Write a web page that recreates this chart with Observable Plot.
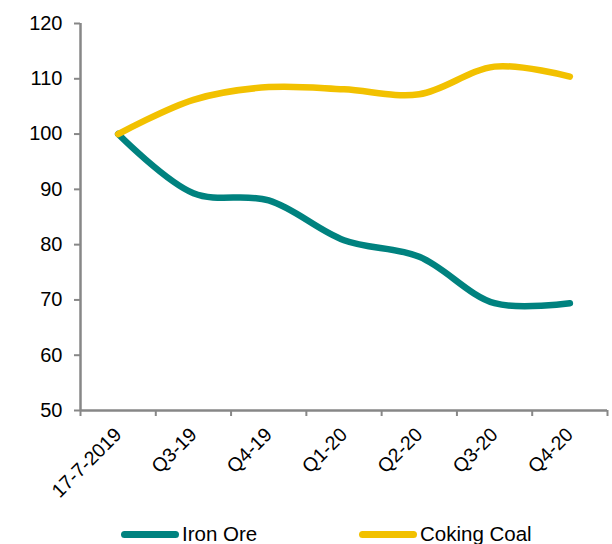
<!DOCTYPE html>
<html>
<head>
<meta charset="utf-8">
<script src="https://cdn.jsdelivr.net/npm/d3@7"></script>
<script src="https://cdn.jsdelivr.net/npm/@observablehq/plot@0.6"></script>
<style>
  html, body { margin: 0; padding: 0; background: #fff; }
  #wrap { position: relative; width: 612px; height: 544px; overflow: hidden; font-family: "Liberation Sans", Arial, sans-serif; }
  #legend { position: absolute; left: 0; top: 521px; width: 612px; height: 30px; }
  .item { position: absolute; top: 0; display: flex; align-items: center; height: 26px; font-size: 20.5px; color: #000; }
  .sw { display: inline-block; width: 58px; height: 7px; border-radius: 4px; margin-right: 3px; }
</style>
</head>
<body>
<div id="wrap">
  <div id="chart"></div>
  <div id="legend"></div>
</div>
<script>
const categories = ["17-7-2019", "Q3-19", "Q4-19", "Q1-20", "Q2-20", "Q3-20", "Q4-20"];
const ironOre = [100, 89.3, 88.0, 80.8, 77.8, 69.4, 69.4];
const cokingCoal = [100, 106.2, 108.5, 108.1, 107.2, 112.2, 110.4];
const seriesNames = ["Iron Ore", "Coking Coal"];
const seriesColors = ["#00827F", "#F2C100"];
const yTicks = [50, 60, 70, 80, 90, 100, 110, 120];

const idx = categories.map((_, i) => i);
const boundaries = d3.range(-0.5, categories.length, 1);
const data = [
  ...ironOre.map((v, i) => ({i, value: v, series: seriesNames[0]})),
  ...cokingCoal.map((v, i) => ({i, value: v, series: seriesNames[1]}))
];
const axisColor = "#878787";

const chart = Plot.plot({
  width: 612,
  height: 515,
  marginLeft: 80,
  marginRight: 5,
  marginTop: 23,
  marginBottom: 105,
  style: {fontFamily: "'Liberation Sans', Arial, sans-serif", fontSize: "20px", color: "#000", background: "#fff"},
  x: {domain: [-0.5, categories.length - 0.5]},
  y: {domain: [50, 120]},
  color: {domain: seriesNames, range: seriesColors},
  marks: [
    Plot.axisY({ticks: yTicks, tickSize: 6, tickPadding: 12, stroke: axisColor, strokeWidth: 2, fill: "#000", label: null}),
    Plot.axisX({ticks: boundaries, tickSize: 6, tickFormat: () => "", stroke: axisColor, strokeWidth: 2, label: null}),
    Plot.axisX({ticks: idx, tickSize: 0, tickPadding: 21, tickRotate: -45, tickFormat: i => categories[i], fill: "#000", label: null}),
    Plot.ruleX([-0.5], {stroke: axisColor, strokeWidth: 2.5}),
    Plot.ruleY([50], {stroke: axisColor, strokeWidth: 2.5}),
    Plot.line(data, {x: "i", y: "value", stroke: "series", z: "series", curve: "catmull-rom", strokeWidth: 6.5, strokeLinecap: "round", strokeLinejoin: "round"})
  ]
});
d3.select(chart).selectAll("g[aria-label='x-axis tick label']").style("font-size", "19.5px");
document.getElementById("chart").appendChild(chart);

const legend = document.getElementById("legend");
const legendX = [121, 359];
seriesNames.forEach((name, k) => {
  const item = document.createElement("div");
  item.className = "item";
  item.style.left = legendX[k] + "px";
  const sw = document.createElement("span");
  sw.className = "sw";
  sw.style.background = seriesColors[k];
  item.appendChild(sw);
  item.appendChild(document.createTextNode(name));
  legend.appendChild(item);
});
</script>
</body>
</html>
